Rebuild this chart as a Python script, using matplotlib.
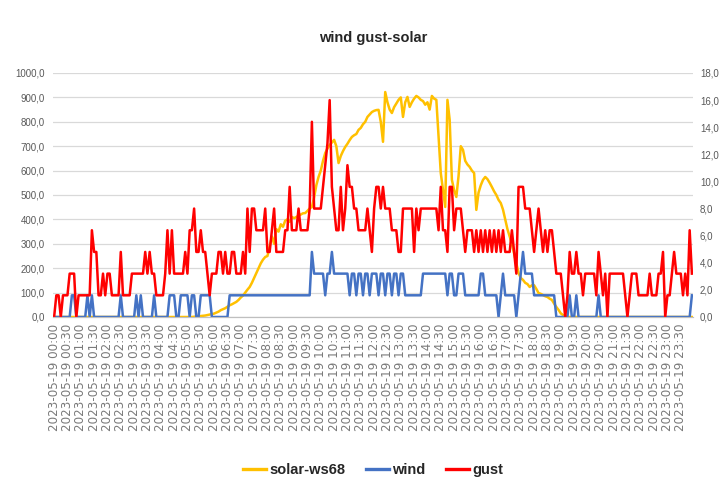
import matplotlib
matplotlib.use("Agg")
import matplotlib.pyplot as plt
from matplotlib.lines import Line2D
import numpy as np

# 5-minute samples, 2023-05-19
times = [f"2023-05-19 {h:02d}:{m:02d}" for h in range(24) for m in range(0, 60, 5)]
tick_labels = times[::6]

solar = [
    0, 0, 0, 0, 0, 0, 0, 0, 0, 0, 0, 0,
    0, 0, 0, 0, 0, 0, 0, 0, 0, 0, 0, 0,
    0, 0, 0, 0, 0, 0, 0, 0, 0, 0, 0, 0,
    0, 0, 0, 0, 0, 0, 0, 0, 0, 0, 0, 0,
    0, 0, 0, 0, 0, 0, 0, 0, 0, 0, 0, 0,
    0, 0, 0, 1, 2, 3, 4, 5, 6, 8, 10, 12,
    14, 18, 22, 28, 32, 36, 42, 48, 52, 57, 62, 70,
    80, 88, 100, 112, 123, 140, 160, 180, 200, 220, 235, 246,
    250, 290, 330, 300, 360, 350, 380, 370, 395, 400, 390, 410,
    405, 410, 415, 420, 425, 426, 435, 445, 451, 490, 540, 574,
    600, 640, 672, 690, 705, 715, 726, 700, 631, 660, 680, 697,
    710, 725, 738, 745, 750, 767, 775, 790, 800, 820, 830, 840,
    845, 848, 849, 800, 718, 922, 880, 850, 836, 860, 875, 890,
    900, 820, 880, 902, 861, 880, 895, 906, 900, 890, 885, 870,
    880, 850, 906, 895, 890, 738, 590, 520, 451, 890, 808, 562,
    520, 492, 578, 700, 685, 640, 625, 615, 600, 590, 439, 510,
    540, 562, 574, 565, 550, 533, 515, 500, 480, 467, 440, 400,
    360, 330, 300, 260, 220, 180, 160, 152, 140, 135, 123, 130,
    130, 115, 98, 95, 90, 85, 82, 75, 70, 55, 41, 29,
    15, 8, 3, 0, 0, 0, 0, 0, 0, 0, 0, 0,
    0, 0, 0, 0, 0, 0, 0, 0, 0, 0, 0, 0,
    0, 0, 0, 0, 0, 0, 0, 0, 0, 0, 0, 0,
    0, 0, 0, 0, 0, 0, 0, 0, 0, 0, 0, 0,
    0, 0, 0, 0, 0, 0, 0, 0, 0, 0, 0, 0,
]

wind = [
    0, 0, 0, 0, 0, 0, 0, 0, 1.6, 1.6, 0, 0,
    0, 0, 0, 1.6, 0, 1.6, 0, 0, 0, 0, 0, 0,
    0, 0, 0, 0, 0, 0, 1.6, 0, 0, 0, 0, 0,
    0, 1.6, 0, 1.6, 0, 0, 0, 0, 0, 1.6, 0, 0,
    0, 0, 0, 0, 1.6, 1.6, 1.6, 0, 0, 1.6, 1.6, 1.6,
    1.6, 0, 1.6, 1.6, 0, 0, 1.6, 1.6, 1.6, 1.6, 1.6, 0,
    0, 0, 0, 0, 0, 0, 0, 1.6, 1.6, 1.6, 1.6, 1.6,
    1.6, 1.6, 1.6, 1.6, 1.6, 1.6, 1.6, 1.6, 1.6, 1.6, 1.6, 1.6,
    1.6, 1.6, 1.6, 1.6, 1.6, 1.6, 1.6, 1.6, 1.6, 1.6, 1.6, 1.6,
    1.6, 1.6, 1.6, 1.6, 1.6, 1.6, 1.6, 1.6, 4.8, 3.2, 3.2, 3.2,
    3.2, 3.2, 1.6, 3.2, 3.2, 4.8, 3.2, 3.2, 3.2, 3.2, 3.2, 3.2,
    3.2, 1.6, 3.2, 3.2, 1.6, 3.2, 3.2, 1.6, 3.2, 3.2, 1.6, 3.2,
    3.2, 3.2, 1.6, 3.2, 3.2, 1.6, 3.2, 3.2, 1.6, 3.2, 3.2, 1.6,
    3.2, 3.2, 1.6, 1.6, 1.6, 1.6, 1.6, 1.6, 1.6, 1.6, 3.2, 3.2,
    3.2, 3.2, 3.2, 3.2, 3.2, 3.2, 3.2, 3.2, 3.2, 1.6, 3.2, 3.2,
    1.6, 1.6, 3.2, 3.2, 3.2, 1.6, 1.6, 1.6, 1.6, 1.6, 1.6, 1.6,
    3.2, 3.2, 1.6, 1.6, 1.6, 1.6, 1.6, 1.6, 0, 1.6, 3.2, 1.6,
    1.6, 1.6, 1.6, 1.6, 0, 1.6, 3.2, 4.8, 3.2, 3.2, 3.2, 3.2,
    1.6, 1.6, 1.6, 1.6, 1.6, 1.6, 1.6, 1.6, 1.6, 1.6, 0, 0,
    0, 0, 0, 0, 1.6, 0, 0, 1.6, 0, 0, 0, 0,
    0, 0, 0, 0, 0, 1.6, 0, 0, 0, 0, 0, 0,
    0, 0, 0, 0, 0, 0, 0, 0, 0, 0, 0, 0,
    0, 0, 0, 0, 0, 0, 0, 0, 0, 0, 0, 0,
    0, 0, 0, 0, 0, 0, 0, 0, 0, 0, 0, 1.6,
]

gust = [
    0, 1.6, 1.6, 0, 1.6, 1.6, 1.6, 3.2, 3.2, 3.2, 0, 1.6,
    1.6, 1.6, 1.6, 1.6, 1.6, 6.4, 4.8, 4.8, 1.6, 1.6, 3.2, 1.6,
    3.2, 3.2, 1.6, 1.6, 1.6, 1.6, 4.8, 1.6, 1.6, 1.6, 1.6, 3.2,
    3.2, 3.2, 3.2, 3.2, 3.2, 4.8, 3.2, 4.8, 3.2, 3.2, 1.6, 1.6,
    1.6, 1.6, 3.2, 6.4, 3.2, 6.4, 3.2, 3.2, 3.2, 3.2, 3.2, 4.8,
    3.2, 6.4, 6.4, 8.0, 4.8, 4.8, 6.4, 4.8, 4.8, 3.2, 1.6, 3.2,
    3.2, 3.2, 4.8, 4.8, 3.2, 4.8, 3.2, 3.2, 4.8, 4.8, 3.2, 3.2,
    3.2, 4.8, 3.2, 8.0, 4.8, 8.0, 8.0, 6.4, 6.4, 6.4, 6.4, 8.0,
    4.8, 4.8, 6.4, 8.0, 4.8, 4.8, 4.8, 4.8, 6.4, 6.4, 9.6, 6.4,
    6.4, 6.4, 8.0, 6.4, 6.4, 6.4, 6.4, 8.0, 14.4, 8.0, 8.0, 8.0,
    8.0, 9.6, 11.2, 12.8, 16.0, 9.6, 8.0, 6.4, 6.4, 9.6, 6.4, 8.0,
    11.2, 9.6, 9.6, 8.0, 8.0, 6.4, 6.4, 6.4, 6.4, 8.0, 6.4, 4.8,
    8.0, 9.6, 9.6, 8.0, 9.6, 8.0, 8.0, 8.0, 6.4, 6.4, 6.4, 4.8,
    4.8, 8.0, 8.0, 8.0, 8.0, 8.0, 4.8, 8.0, 6.4, 8.0, 8.0, 8.0,
    8.0, 8.0, 8.0, 8.0, 8.0, 6.4, 9.6, 6.4, 6.4, 4.8, 9.6, 9.6,
    6.4, 8.0, 8.0, 8.0, 6.4, 4.8, 6.4, 6.4, 6.4, 4.8, 6.4, 4.8,
    6.4, 4.8, 6.4, 4.8, 6.4, 4.8, 6.4, 4.8, 6.4, 4.8, 6.4, 4.8,
    4.8, 4.8, 6.4, 4.8, 3.2, 9.6, 9.6, 9.6, 8.0, 8.0, 8.0, 6.4,
    4.8, 6.4, 8.0, 6.4, 4.8, 6.4, 4.8, 6.4, 6.4, 4.8, 3.2, 3.2,
    3.2, 1.6, 0, 1.6, 4.8, 3.2, 3.2, 4.8, 3.2, 3.2, 1.6, 3.2,
    3.2, 3.2, 3.2, 3.2, 1.6, 4.8, 3.2, 1.6, 3.2, 0, 3.2, 3.2,
    3.2, 3.2, 3.2, 3.2, 3.2, 1.6, 0, 1.6, 3.2, 3.2, 3.2, 1.6,
    1.6, 1.6, 1.6, 1.6, 3.2, 1.6, 1.6, 1.6, 3.2, 3.2, 4.8, 0,
    1.6, 1.6, 3.2, 4.8, 3.2, 3.2, 3.2, 1.6, 3.2, 1.6, 6.4, 3.2,
]

left_ticks = list(range(0, 1001, 100))
right_ticks = list(range(0, 19, 2))

C_SOLAR = "#FFC000"
C_WIND = "#4472C4"
C_GUST = "#FF0000"
TXT = "#595959"
SANS = ["Liberation Sans", "DejaVu Sans"]

W, H = 720, 492
fig = plt.figure(figsize=(W / 100, H / 100), dpi=100)
fig.patch.set_facecolor("white")
ax = fig.add_axes([53 / W, 1 - 317 / H, 640 / W, 244 / H])
ax2 = ax.twinx()

x = np.arange(len(times))
ax.plot(x, solar, color=C_SOLAR, lw=1.8, solid_joinstyle="round")
ax2.plot(x, wind, color=C_WIND, lw=1.8, solid_joinstyle="round")
ax2.plot(x, gust, color=C_GUST, lw=1.8, solid_joinstyle="round")

ax.set_xlim(-0.5, len(times) - 0.5)
ax.set_ylim(0, 1000)
ax2.set_ylim(0, 18)

ax.set_yticks(left_ticks)
ax.set_yticklabels([f"{v},0" for v in left_ticks], fontsize=7, color=TXT, family=SANS)
ax2.set_yticks(right_ticks)
ax2.set_yticklabels([f"{v},0" for v in right_ticks], fontsize=7, color=TXT, family=SANS)

ax.set_xticks(x[::6])
ax.set_xticklabels(tick_labels, rotation=90, fontsize=8.6, color="#7A7A7A", family="DejaVu Sans")

ax.tick_params(axis="y", length=0, pad=6)
ax2.tick_params(axis="y", length=0, pad=5)
ax.tick_params(axis="x", length=0, pad=5)

ax.yaxis.grid(True, color="#D9D9D9", lw=0.9)
ax.set_axisbelow(True)
for a in (ax, ax2):
    for s in ("top", "left", "right"):
        a.spines[s].set_visible(False)
    a.spines["bottom"].set_color("#BFBFBF")

fig.text(373 / W, 1 - 38 / H, "wind gust-solar", ha="center", va="center",
         fontsize=10.5, color="#262626", fontweight="bold", family=SANS)

handles = [Line2D([], [], color=C_SOLAR, lw=2.4),
           Line2D([], [], color=C_WIND, lw=2.4),
           Line2D([], [], color=C_GUST, lw=2.4)]
fig.legend(handles, ["solar-ws68", "wind", "gust"], loc="center",
           bbox_to_anchor=(373 / W, 1 - 470 / H), ncol=3, frameon=False,
           prop={"family": SANS, "size": 10.5, "weight": "bold"},
           handlelength=1.6, handletextpad=0.2, columnspacing=1.4,
           labelcolor="#262626")

fig.savefig("out.png", dpi=100, facecolor="white")
